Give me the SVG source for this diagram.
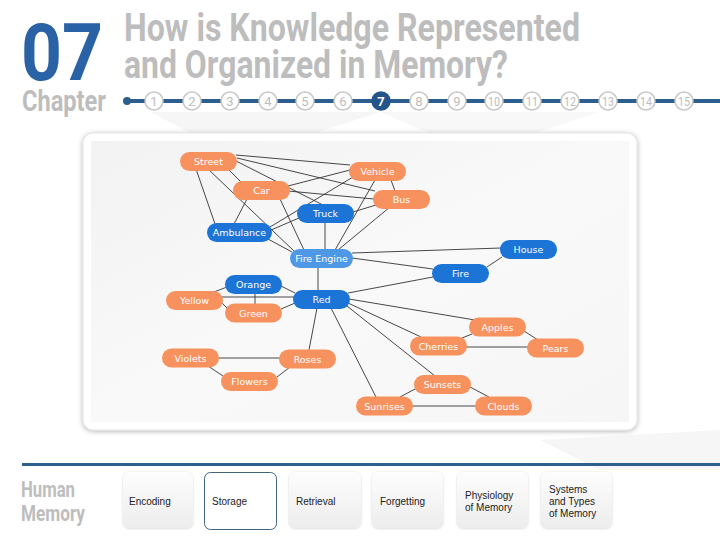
<svg xmlns="http://www.w3.org/2000/svg" width="720" height="540" viewBox="0 0 720 540">
<defs>
<style>
.hd{font-family:Roboto,"Liberation Sans",sans-serif;font-weight:bold;fill:#bdbdbd}
.nd rect{stroke:none}
.o rect{fill:#f7925f}
.b rect{fill:#1c74d6}
.f rect{fill:#4e98e6}
.nd text{font-family:"DejaVu Sans",Verdana,sans-serif;font-size:9.5px;fill:#fff;text-anchor:middle}
#edges line{stroke:#333;stroke-width:0.9}
.tl circle{fill:#fff;stroke:#c8c8c8;stroke-width:1.5}
.tl text{font-family:Roboto,"Liberation Sans",sans-serif;font-size:13px;fill:#bdbdbd;text-anchor:middle}
.btn rect{fill:url(#bg);filter:url(#bs)}
.btn text{font-family:"Liberation Sans",Arial,sans-serif;font-size:10px;fill:#222}
</style>
<linearGradient id="bg" x1="0" y1="0" x2="0" y2="1"><stop offset="0" stop-color="#fdfdfd"/><stop offset="1" stop-color="#ededed"/></linearGradient>
<linearGradient id="cg" x1="0" y1="0" x2="1" y2="1"><stop offset="0" stop-color="#f2f2f2"/><stop offset="0.5" stop-color="#f9f9f9"/><stop offset="1" stop-color="#f6f6f6"/></linearGradient>
<filter id="sh" x="-10%" y="-10%" width="120%" height="120%"><feDropShadow dx="0" dy="1" stdDeviation="2.5" flood-color="#000" flood-opacity="0.3"/></filter>
<filter id="bs" x="-20%" y="-20%" width="140%" height="140%"><feDropShadow dx="0" dy="0.5" stdDeviation="1" flood-color="#000" flood-opacity="0.18"/></filter>
</defs>
<rect width="720" height="540" fill="#fff"/>
<polygon points="150,112 380,112 300,138 200,138" fill="#f6f6f6"/>
<polygon points="380,112 600,112 520,138 440,138" fill="#f8f8f8"/>
<polygon points="540,440 720,430 720,470 600,470" fill="#f6f6f6"/>

<g id="header">
<text class="hd" x="21" y="80" font-size="80" fill="#2a63a5" style="fill:#2a63a5" textLength="82" lengthAdjust="spacingAndGlyphs">07</text>
<text class="hd" x="124" y="41" font-size="38" textLength="456" lengthAdjust="spacingAndGlyphs">How is Knowledge Represented</text>
<text class="hd" x="124" y="78" font-size="38" textLength="384" lengthAdjust="spacingAndGlyphs">and Organized in Memory?</text>
<text class="hd" x="22" y="111" font-size="29" textLength="84" lengthAdjust="spacingAndGlyphs">Chapter</text>
</g>

<g id="timeline" class="tl">
<line x1="127" y1="101" x2="720" y2="101" stroke="#2d5f8e" stroke-width="4"/>
<circle cx="127" cy="101" r="4" style="fill:#2d5f8e;stroke:none"/>
<circle cx="154" cy="101" r="9"/><text x="154" y="106">1</text>
<circle cx="192" cy="101" r="9"/><text x="192" y="106">2</text>
<circle cx="230" cy="101" r="9"/><text x="230" y="106">3</text>
<circle cx="268" cy="101" r="9"/><text x="268" y="106">4</text>
<circle cx="305" cy="101" r="9"/><text x="305" y="106">5</text>
<circle cx="343" cy="101" r="9"/><text x="343" y="106">6</text>
<circle cx="381" cy="101" r="9" style="fill:#24558a;stroke:#24558a"/><text x="381" y="106" style="fill:#fff;font-weight:bold">7</text>
<circle cx="419" cy="101" r="9"/><text x="419" y="106">8</text>
<circle cx="457" cy="101" r="9"/><text x="457" y="106">9</text>
<circle cx="494" cy="101" r="9"/><text x="494" y="106" textLength="12" lengthAdjust="spacingAndGlyphs">10</text>
<circle cx="532" cy="101" r="9"/><text x="532" y="106" textLength="12" lengthAdjust="spacingAndGlyphs">11</text>
<circle cx="570" cy="101" r="9"/><text x="570" y="106" textLength="12" lengthAdjust="spacingAndGlyphs">12</text>
<circle cx="608" cy="101" r="9"/><text x="608" y="106" textLength="12" lengthAdjust="spacingAndGlyphs">13</text>
<circle cx="646" cy="101" r="9"/><text x="646" y="106" textLength="12" lengthAdjust="spacingAndGlyphs">14</text>
<circle cx="684" cy="101" r="9"/><text x="684" y="106" textLength="12" lengthAdjust="spacingAndGlyphs">15</text>
</g>

<g id="card">
<rect x="83" y="133" width="554" height="297" rx="10" fill="#fff" stroke="#e2e2e2" filter="url(#sh)"/>
<rect x="91" y="141" width="538" height="281" fill="url(#cg)"/>
</g>

<g id="edges">
<line x1="236" y1="155" x2="350" y2="165"/>
<line x1="237" y1="158" x2="375" y2="191"/>
<line x1="236" y1="161" x2="323" y2="205"/>
<line x1="228" y1="169" x2="241" y2="182"/>
<line x1="196" y1="169" x2="215" y2="224"/>
<line x1="208" y1="169" x2="294" y2="251"/>
<line x1="288" y1="186" x2="350" y2="170"/>
<line x1="288" y1="191" x2="374" y2="199"/>
<line x1="247" y1="199" x2="234" y2="224"/>
<line x1="280" y1="199" x2="304" y2="250"/>
<line x1="270" y1="227" x2="353" y2="177"/>
<line x1="271" y1="230" x2="299" y2="218"/>
<line x1="268" y1="239" x2="292" y2="252"/>
<line x1="375" y1="180" x2="335" y2="250"/>
<line x1="391" y1="180" x2="395" y2="191"/>
<line x1="376" y1="205" x2="353" y2="212"/>
<line x1="390" y1="207" x2="338" y2="250"/>
<line x1="325" y1="222" x2="325" y2="249"/>
<line x1="352" y1="253" x2="501" y2="248"/>
<line x1="352" y1="258" x2="433" y2="269"/>
<line x1="502" y1="257" x2="487" y2="267"/>
<line x1="318" y1="267" x2="318" y2="291"/>
<line x1="433" y1="277" x2="348" y2="293"/>
<line x1="349" y1="299" x2="475" y2="320"/>
<line x1="348" y1="303" x2="421" y2="337"/>
<line x1="347" y1="306" x2="435" y2="376"/>
<line x1="331" y1="308" x2="376" y2="397"/>
<line x1="317" y1="308" x2="309" y2="350"/>
<line x1="281" y1="286" x2="295" y2="293"/>
<line x1="222" y1="297" x2="294" y2="297"/>
<line x1="281" y1="309" x2="295" y2="303"/>
<line x1="227" y1="287" x2="214" y2="292"/>
<line x1="255" y1="293" x2="255" y2="304"/>
<line x1="222" y1="303" x2="228" y2="309"/>
<line x1="219" y1="358" x2="280" y2="358"/>
<line x1="208" y1="366" x2="223" y2="376"/>
<line x1="290" y1="367" x2="277" y2="377"/>
<line x1="472" y1="334" x2="462" y2="338"/>
<line x1="524" y1="331" x2="538" y2="340"/>
<line x1="466" y1="347" x2="528" y2="347"/>
<line x1="417" y1="388" x2="400" y2="397"/>
<line x1="470" y1="387" x2="489" y2="397"/>
<line x1="412" y1="406" x2="476" y2="406"/>
</g>

<g id="n-street" class="nd o"><rect x="180" y="152" width="57" height="19" rx="9.5"/><text x="208.5" y="165">Street</text></g>
<g id="n-vehicle" class="nd o"><rect x="349" y="162" width="57" height="19" rx="9.5"/><text x="377.5" y="175">Vehicle</text></g>
<g id="n-car" class="nd o"><rect x="233" y="181" width="57" height="19" rx="9.5"/><text x="261.5" y="194">Car</text></g>
<g id="n-bus" class="nd o"><rect x="373" y="190" width="57" height="19" rx="9.5"/><text x="401.5" y="203">Bus</text></g>
<g id="n-truck" class="nd b"><rect x="297" y="204" width="57" height="19" rx="9.5"/><text x="325.5" y="217">Truck</text></g>
<g id="n-ambulance" class="nd b"><rect x="207" y="223" width="65" height="19" rx="9.5"/><text x="239.5" y="236">Ambulance</text></g>
<g id="n-fire-engine" class="nd f"><rect x="290" y="249" width="63" height="19" rx="9.5"/><text x="321.5" y="262">Fire Engine</text></g>
<g id="n-house" class="nd b"><rect x="500" y="240" width="57" height="19" rx="9.5"/><text x="528.5" y="253">House</text></g>
<g id="n-fire" class="nd b"><rect x="432" y="264" width="57" height="19" rx="9.5"/><text x="460.5" y="277">Fire</text></g>
<g id="n-orange" class="nd b"><rect x="225" y="275" width="57" height="19" rx="9.5"/><text x="253.5" y="288">Orange</text></g>
<g id="n-yellow" class="nd o"><rect x="166" y="291" width="57" height="19" rx="9.5"/><text x="194.5" y="304">Yellow</text></g>
<g id="n-green" class="nd o"><rect x="225" y="303.5" width="57" height="19" rx="9.5"/><text x="253.5" y="316.5">Green</text></g>
<g id="n-red" class="nd b"><rect x="293" y="290" width="57" height="19" rx="9.5"/><text x="321.5" y="303">Red</text></g>
<g id="n-violets" class="nd o"><rect x="162" y="348.5" width="57" height="19" rx="9.5"/><text x="190.5" y="361.5">Violets</text></g>
<g id="n-roses" class="nd o"><rect x="279" y="349.5" width="57" height="19" rx="9.5"/><text x="307.5" y="362.5">Roses</text></g>
<g id="n-flowers" class="nd o"><rect x="221" y="372" width="57" height="19" rx="9.5"/><text x="249.5" y="385">Flowers</text></g>
<g id="n-apples" class="nd o"><rect x="469" y="317.5" width="57" height="19" rx="9.5"/><text x="497.5" y="330.5">Apples</text></g>
<g id="n-cherries" class="nd o"><rect x="410" y="336.5" width="57" height="19" rx="9.5"/><text x="438.5" y="349.5">Cherries</text></g>
<g id="n-pears" class="nd o"><rect x="527" y="338.5" width="57" height="19" rx="9.5"/><text x="555.5" y="351.5">Pears</text></g>
<g id="n-sunsets" class="nd o"><rect x="414" y="375" width="57" height="19" rx="9.5"/><text x="442.5" y="388">Sunsets</text></g>
<g id="n-sunrises" class="nd o"><rect x="356" y="396.5" width="57" height="19" rx="9.5"/><text x="384.5" y="409.5">Sunrises</text></g>
<g id="n-clouds" class="nd o"><rect x="475" y="396.5" width="57" height="19" rx="9.5"/><text x="503.5" y="409.5">Clouds</text></g>

<g id="footer">
<line x1="22" y1="464.5" x2="720" y2="464.5" stroke="#2f5f8c" stroke-width="3"/>
<text class="hd" x="21" y="497" font-size="22" textLength="54" lengthAdjust="spacingAndGlyphs">Human</text>
<text class="hd" x="21" y="521" font-size="22" textLength="64" lengthAdjust="spacingAndGlyphs">Memory</text>
</g>

<g id="btn-encoding" class="btn"><rect x="123" y="472" width="70" height="56" rx="6"/><text x="129" y="505">Encoding</text></g>
<g id="btn-storage" class="btn"><rect x="204.5" y="472.5" width="72" height="57" rx="6" style="fill:#fff;stroke:#3f6482;stroke-width:1;filter:none"/><text x="212" y="505">Storage</text></g>
<g id="btn-retrieval" class="btn"><rect x="289" y="472" width="72" height="56" rx="6"/><text x="296" y="505">Retrieval</text></g>
<g id="btn-forgetting" class="btn"><rect x="372" y="472" width="71" height="56" rx="6"/><text x="380" y="505">Forgetting</text></g>
<g id="btn-physiology" class="btn"><rect x="457" y="472" width="71" height="56" rx="6"/><text x="465" y="499">Physiology</text><text x="465" y="511">of Memory</text></g>
<g id="btn-systems" class="btn"><rect x="541" y="472" width="71" height="56" rx="6"/><text x="549" y="493">Systems</text><text x="549" y="505">and Types</text><text x="549" y="517">of Memory</text></g>
</svg>
